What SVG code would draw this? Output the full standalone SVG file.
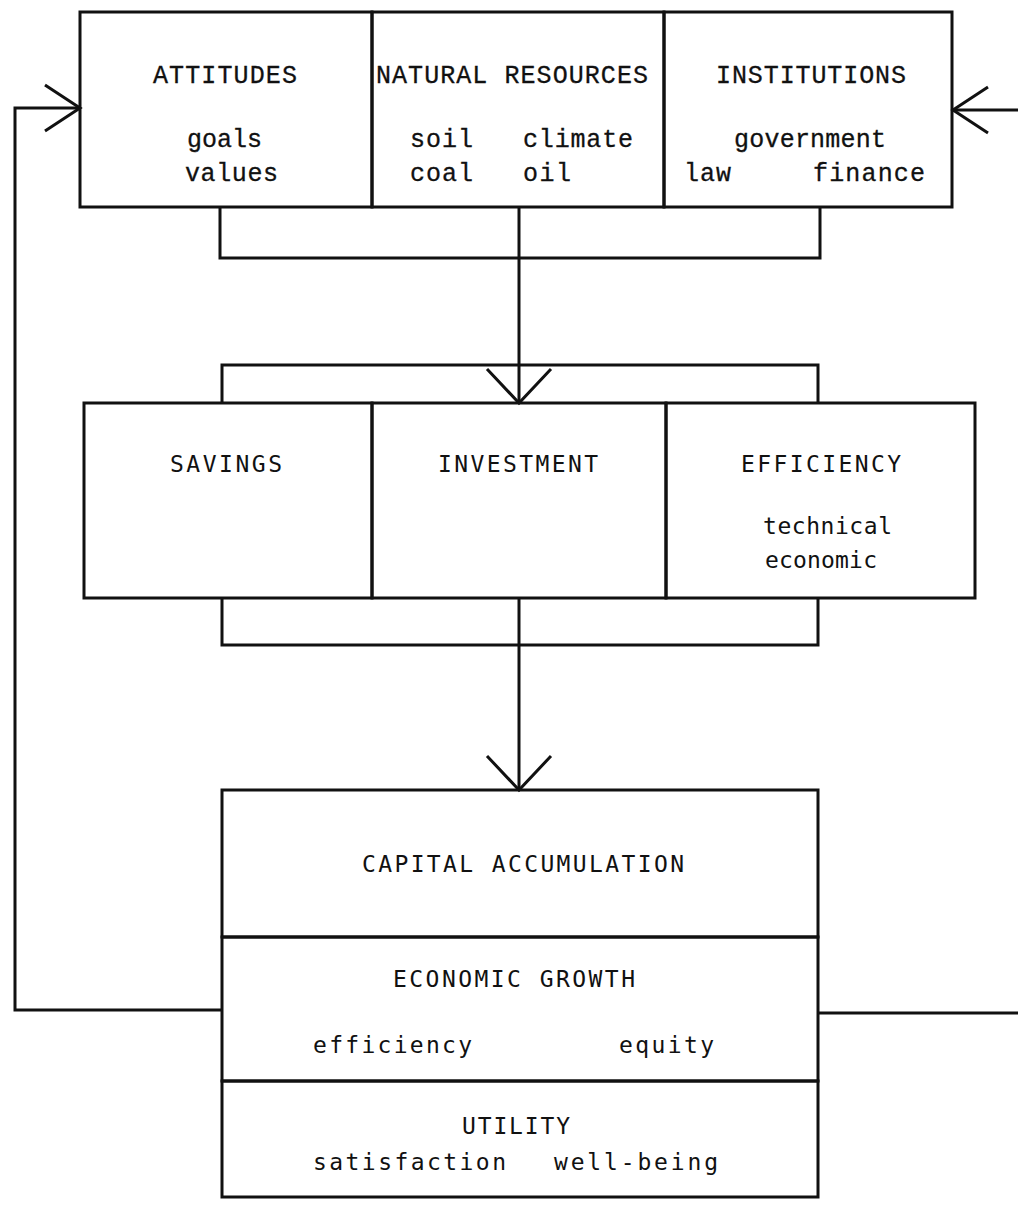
<svg xmlns="http://www.w3.org/2000/svg" width="1018" height="1227" viewBox="0 0 1018 1227">
<style>
.box{fill:none;stroke:#111;stroke-width:3}
.ln{fill:none;stroke:#111;stroke-width:3}
.t1{font-family:"Liberation Mono","Courier New",monospace;font-size:25px;fill:#111;stroke:#111;stroke-width:0.3;font-variant-ligatures:none}
.t2{font-family:"DejaVu Sans Mono","Liberation Mono",monospace;font-size:23px;fill:#111;font-variant-ligatures:none}
.c{text-anchor:middle}
</style>
<defs>
<marker id="av" markerUnits="userSpaceOnUse" markerWidth="80" markerHeight="80" refX="0" refY="0" viewBox="-40 -40 80 80" orient="auto" overflow="visible">
<path d="M-34,-32 L0,0 L-34,32" fill="none" stroke="#111" stroke-width="3"/>
</marker>
<marker id="ah" markerUnits="userSpaceOnUse" markerWidth="80" markerHeight="80" refX="0" refY="0" viewBox="-40 -40 80 80" orient="auto" overflow="visible">
<path d="M-35,-23 L0,0 L-35,23" fill="none" stroke="#111" stroke-width="3"/>
</marker>
</defs>
<rect width="1018" height="1227" fill="#fff"/>

<g id="connectors">
<polyline class="ln" points="220,207 220,258 820,258 820,207"/>
<line class="ln" x1="519" y1="207" x2="519" y2="403" marker-end="url(#av)"/>
<polyline class="ln" points="222,403 222,365 818,365 818,403"/>
<polyline class="ln" points="222,598 222,645 818,645 818,598"/>
<line class="ln" x1="519" y1="598" x2="519" y2="790" marker-end="url(#av)"/>
<polyline class="ln" points="222,1010 15,1010 15,108 80,108" marker-end="url(#ah)"/>
<line class="ln" x1="818" y1="1013" x2="1018" y2="1013"/>
<line class="ln" x1="1018" y1="110" x2="953" y2="110" marker-end="url(#ah)"/>
</g>

<g id="attitudes">
<rect class="box" x="80" y="12" width="292" height="195"/>
<text class="t1 c" x="225" y="83" textLength="144">ATTITUDES</text>
<text class="t1" x="187" y="147" textLength="75">goals</text>
<text class="t1" x="185" y="181" textLength="93">values</text>
</g>
<g id="natural-resources">
<rect class="box" x="372" y="12" width="292" height="195"/>
<text class="t1 c" x="512" y="83" textLength="272">NATURAL RESOURCES</text>
<text class="t1" x="410" y="147" textLength="63">soil</text>
<text class="t1" x="523" y="147" textLength="110">climate</text>
<text class="t1" x="410" y="181" textLength="63">coal</text>
<text class="t1" x="523" y="181" textLength="48">oil</text>
</g>
<g id="institutions">
<rect class="box" x="664" y="12" width="288" height="195"/>
<text class="t1 c" x="811" y="83" textLength="190">INSTITUTIONS</text>
<text class="t1" x="734" y="147" textLength="152">government</text>
<text class="t1" x="684" y="181" textLength="47">law</text>
<text class="t1" x="813" y="181" textLength="112">finance</text>
</g>

<g id="savings">
<rect class="box" x="84" y="403" width="288" height="195"/>
<text class="t2 c" x="226" y="472" textLength="112">SAVINGS</text>
</g>
<g id="investment">
<rect class="box" x="372" y="403" width="294" height="195"/>
<text class="t2 c" x="518" y="472" textLength="160">INVESTMENT</text>
</g>
<g id="efficiency">
<rect class="box" x="666" y="403" width="309" height="195"/>
<text class="t2 c" x="821" y="472" textLength="160">EFFICIENCY</text>
<text class="t2" x="763" y="534" textLength="129">technical</text>
<text class="t2" x="765" y="568" textLength="112">economic</text>
</g>

<g id="capital-accumulation">
<rect class="box" x="222" y="790" width="596" height="147"/>
<text class="t2 c" x="523" y="872" textLength="322">CAPITAL ACCUMULATION</text>
</g>
<g id="economic-growth">
<rect class="box" x="222" y="937" width="596" height="144"/>
<text class="t2 c" x="514" y="987" textLength="242">ECONOMIC GROWTH</text>
<text class="t2" x="313" y="1053" textLength="159">efficiency</text>
<text class="t2" x="619" y="1053" textLength="95">equity</text>
</g>
<g id="utility">
<rect class="box" x="222" y="1081" width="596" height="116"/>
<text class="t2 c" x="516" y="1134" textLength="108">UTILITY</text>
<text class="t2" x="313" y="1170" textLength="193">satisfaction</text>
<text class="t2" x="554" y="1170" textLength="164">well-being</text>
</g>
</svg>
